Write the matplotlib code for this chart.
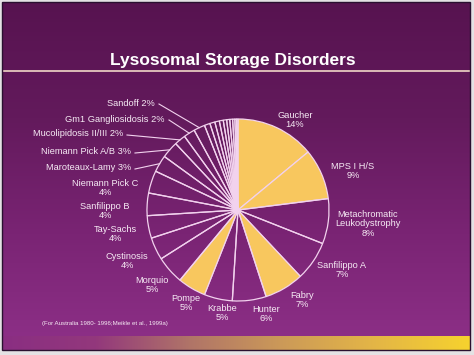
import numpy as np
import matplotlib
matplotlib.use("Agg")
import matplotlib.pyplot as plt
from matplotlib.colors import LinearSegmentedColormap
from matplotlib.patches import Rectangle

# ---------------- data ----------------
title = "Lysosomal Storage Disorders"
disorders = ["Gaucher", "MPS I H/S", "Metachromatic\nLeukodystrophy", "Sanfilippo A",
             "Fabry", "Hunter", "Krabbe", "Pompe", "Morquio", "Cystinosis",
             "Tay-Sachs", "Sanfilippo B", "Niemann Pick C", "Maroteaux-Lamy",
             "Niemann Pick A/B", "Mucolipidosis II/III", "Gm1 Gangliosidosis", "Sandoff"]
percent = [14, 9, 8, 7, 7, 6, 5, 5, 5, 4, 4, 4, 4, 3, 3, 2, 2, 2]
highlight = ["Gaucher", "MPS I H/S", "Fabry", "Pompe"]
minor = [1.0, 0.9, 0.8, 0.7, 0.6, 0.55, 0.5, 0.4, 0.3, 0.25]
footnote = "(For Australia 1980- 1996;Meikle et al., 1999a)"

# ---------------- layout ----------------
W, H = 474, 355
FONT = "Liberation Sans"
TXT = "#f6eaf4"
EDGE = "#f2d2ee"
YELLOW = "#f8c75e"

# label placement: (x, y, ha, single_line)
label_pos = {
    "Gaucher": (295, 120, "center", False),
    "MPS I H/S": (353, 171, "center", False),
    "Metachromatic\nLeukodystrophy": (368, 224, "center", False),
    "Sanfilippo A": (342, 270, "center", False),
    "Fabry": (302, 300, "center", False),
    "Hunter": (266, 314, "center", False),
    "Krabbe": (222, 313, "center", False),
    "Pompe": (186, 303, "center", False),
    "Morquio": (152, 285, "center", False),
    "Cystinosis": (127, 261, "center", False),
    "Tay-Sachs": (115, 234, "center", False),
    "Sanfilippo B": (105, 211, "center", False),
    "Niemann Pick C": (105, 188, "center", False),
    "Maroteaux-Lamy": (131, 168, "right", True),
    "Niemann Pick A/B": (131, 152, "right", True),
    "Mucolipidosis II/III": (123, 134, "right", True),
    "Gm1 Gangliosidosis": (165, 119, "right", True),
    "Sandoff": (155, 103, "right", True),
}

fig = plt.figure(figsize=(W / 100, H / 100), dpi=100)
fig.patch.set_facecolor("#e4e2e4")

bg = fig.add_axes([0, 0, 1, 1])
bg.set_xlim(0, W)
bg.set_ylim(H, 0)
bg.axis("off")

# background vertical gradient
grad_cmap = LinearSegmentedColormap.from_list("bg", ["#571350", "#631a5c", "#7a2474", "#8e3088"])
g = np.linspace(0, 1, 256).reshape(-1, 1)
bg.imshow(g, cmap=grad_cmap, extent=(2, 470, 350, 2), aspect="auto", zorder=0, interpolation="bilinear")

# bottom gold bar
bar_cmap = LinearSegmentedColormap.from_list(
    "bar", ["#8a2e82", "#93387c", "#b07468", "#cc9a58", "#e4b646", "#f6d22e"])
b = np.linspace(0, 1, 256).reshape(1, -1)
bg.imshow(b, cmap=bar_cmap, extent=(2, 470, 350, 336), aspect="auto", zorder=1, interpolation="bilinear")

bg.add_patch(Rectangle((2, 2), 468, 348, fill=False, ec="#2a1030", lw=1.0, zorder=3))

# title and rule
bg.plot([3, 470], [71, 71], color="#f0d6c6", lw=1.2, zorder=2)
bg.text(233, 60, title, ha="center", va="center", color="white", fontsize=12.5,
        fontweight="bold", family=FONT, zorder=4)

# footnote
bg.text(42, 323, footnote, ha="left", va="center", color=TXT, fontsize=4.4, family=FONT, zorder=4)

# ---------------- pie ----------------
cx, cy, R, lim = 238, 210, 91, 1.12
pax = fig.add_axes([(cx - R * lim) / W, (H - cy - R * lim) / H, 2 * R * lim / W, 2 * R * lim / H])
vals = percent + minor
colors = [YELLOW if d in highlight else "none" for d in disorders] + ["none"] * len(minor)
wedges, _ = pax.pie(vals, colors=colors, startangle=90, counterclock=False, radius=1,
                    wedgeprops=dict(edgecolor=EDGE, linewidth=0.9))
pax.set_xlim(-lim, lim)
pax.set_ylim(-lim, lim)
pax.set_aspect("equal")
pax.axis("off")

# labels
for name, v, w in zip(disorders, percent, wedges):
    x, y, ha, single = label_pos[name]
    txt = f"{name} {v}%" if single else f"{name}\n{v}%"
    bg.text(x, y, txt, ha=ha, va="center", color=TXT, fontsize=6.7, family=FONT,
            linespacing=1.1, zorder=4)
    if single:
        a = np.deg2rad((w.theta1 + w.theta2) / 2)
        ex, ey = cx + R * np.cos(a), cy - R * np.sin(a)
        bg.plot([x + 4, ex], [y + 1, ey], color=EDGE, lw=0.8, zorder=2)

fig.savefig("out.png", dpi=100, facecolor=fig.get_facecolor())
